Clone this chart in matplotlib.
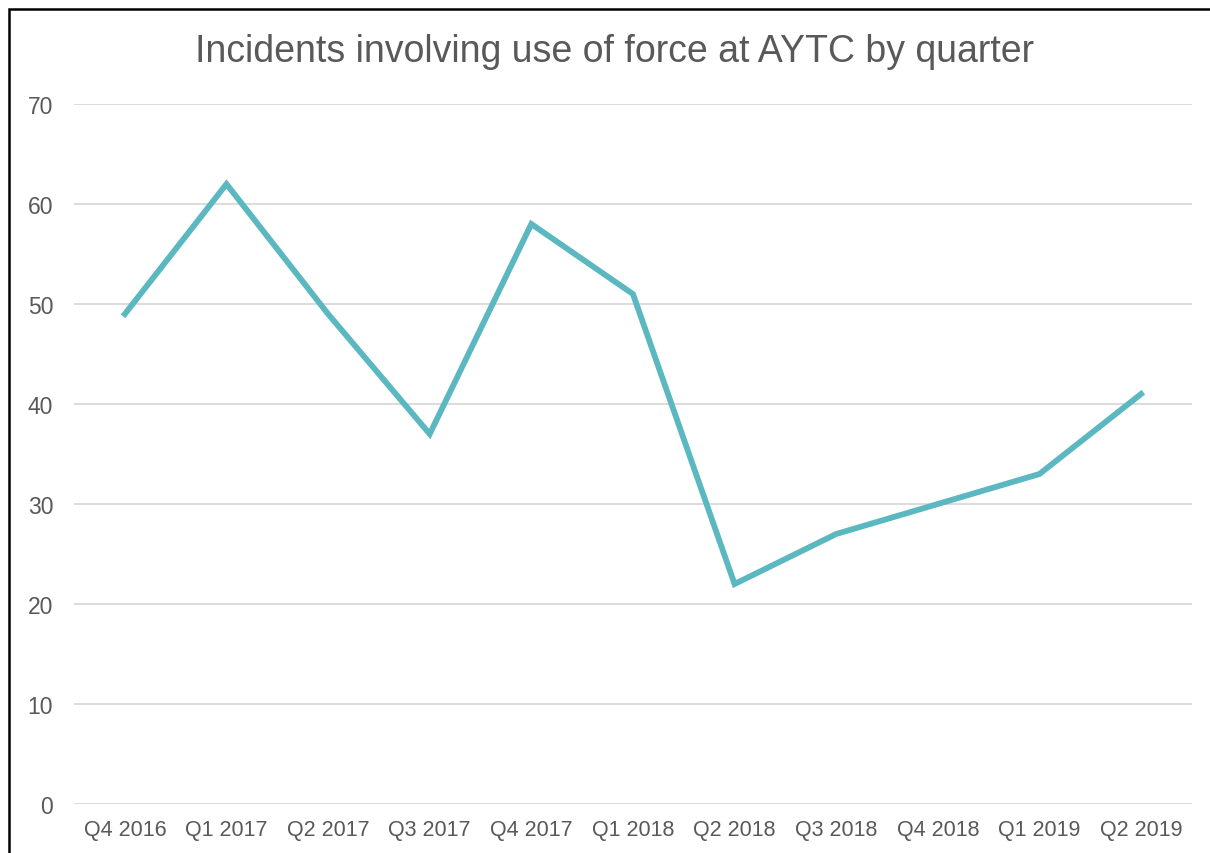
import matplotlib
matplotlib.use("Agg")
import matplotlib.pyplot as plt
from matplotlib.patches import Rectangle

# Data
quarters = ["Q4 2016", "Q1 2017", "Q2 2017", "Q3 2017", "Q4 2017", "Q1 2018",
            "Q2 2018", "Q3 2018", "Q4 2018", "Q1 2019", "Q2 2019"]
incidents = [49, 62, 49, 37, 58, 51, 22, 27, 30, 33, 41]
y_ticks = [0, 10, 20, 30, 40, 50, 60, 70]

text_grey = "#595959"
line_col = "#5BB8C1"

plt.rcParams["font.family"] = ["Liberation Sans", "DejaVu Sans"]

fig = plt.figure(figsize=(12.1, 8.54), dpi=100)
ax = fig.add_axes([0.0612, 0.0574, 0.9238, 0.8196])

x = list(range(len(quarters)))
ax.plot(x, incidents, color=line_col, linewidth=4.2, solid_joinstyle="miter", zorder=3)

ax.set_xlim(-0.5, len(quarters) - 0.5)
ax.set_ylim(0, 70)
ax.set_yticks(y_ticks)
ax.set_xticks(x)
ax.set_xticklabels(quarters)

ax.grid(axis="y", color="#d9d9d9", linewidth=1.3)
ax.set_axisbelow(True)
for s in ax.spines.values():
    s.set_visible(False)
ax.tick_params(axis="x", length=0, labelsize=15.5, labelcolor=text_grey, pad=11)
ax.tick_params(axis="y", length=0, labelsize=16.5, labelcolor=text_grey, pad=15)

fig.text(0.508, 0.939, "Incidents involving use of force at AYTC by quarter",
         ha="center", va="center", fontsize=27, color=text_grey)

# cropped frame around the chart (left and top edges visible)
fig.patches.append(Rectangle((9 / 1210, -0.5), 2.0, 1.5 - 10 / 854,
                             transform=fig.transFigure, fill=False,
                             edgecolor="black", linewidth=1.8))

fig.savefig("out.png", dpi=100)
